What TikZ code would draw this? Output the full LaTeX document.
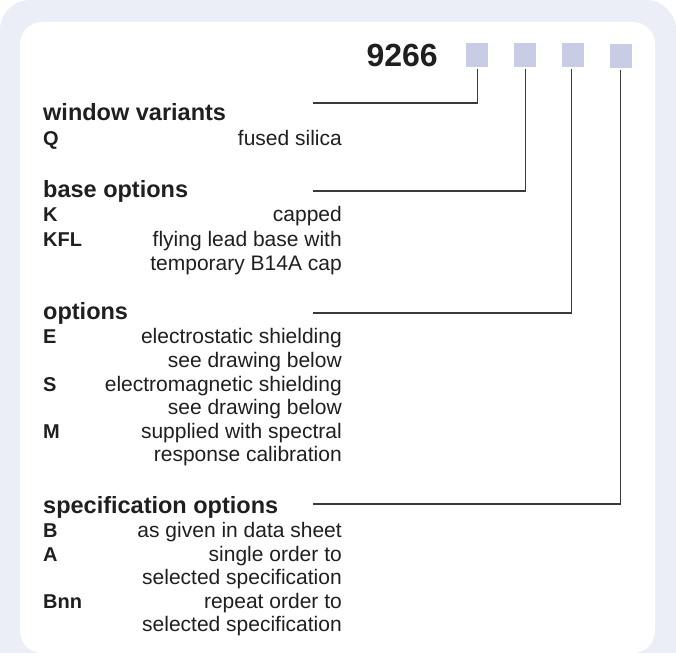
\documentclass[tikz,border=0pt]{standalone}
\usepackage{fontspec}
\setmainfont{Liberation Sans}
\definecolor{framebg}{HTML}{EBEEF6}
\definecolor{codebox}{HTML}{C8CCE4}
\definecolor{linegray}{HTML}{3A3A3A}
\begin{document}
\begin{tikzpicture}[x=1pt,y=-1pt,
  body/.style={inner sep=0pt,font=\fontsize{21}{24}\selectfont,text=black!88},
  lab/.style={body,anchor=base west,font=\fontsize{20}{24}\selectfont\bfseries},
  desc/.style={body,anchor=base east},
  head/.style={inner sep=0pt,anchor=base west,font=\fontsize{23.5}{26}\selectfont\bfseries,text=black!88},
  codesq/.style={fill=codebox,minimum width=22pt,minimum height=24pt,inner sep=0pt},
  conn/.style={draw=linegray,line width=1.2pt}]
\useasboundingbox (0,0) rectangle (676,652);
\begin{scope}
\clip (0,0) rectangle (676,652);
\fill[framebg,rounded corners=30pt] (0,0) rectangle (676,700);
\fill[white,rounded corners=22pt] (20,22) rectangle (655,653);
\end{scope}
% code
\node[inner sep=0pt,anchor=base east,font=\fontsize{32}{34}\selectfont\bfseries,text=black!88] (code) at (438,67) {9266};
\node[codesq,anchor=north west] (b1) at (466,43) {};
\node[codesq,anchor=north west] (b2) at (514,43) {};
\node[codesq,anchor=north west] (b3) at (562,43) {};
\node[codesq,anchor=north west] (b4) at (610,44) {};
% window variants
\node[head] (h1) at (43,121) {window variants};
\node[lab] (q) at (43,146) {Q};
\node[desc] (qd) at (342,146) {fused silica};
% base options
\node[head] (h2) at (43,197) {base options};
\node[lab] (k) at (43,222) {K};
\node[desc] (kd) at (342,222) {capped};
\node[lab] (kfl) at (43,246) {KFL};
\node[desc] (kfld1) at (342,246) {flying lead base with};
\node[desc] (kfld2) at (342,270) {temporary B14A cap};
% options
\node[head] (h3) at (43,319) {options};
\node[lab] (e) at (43,343) {E};
\node[desc] (ed1) at (342,343) {electrostatic shielding};
\node[desc] (ed2) at (342,367) {see drawing below};
\node[lab] (s) at (43,391) {S};
\node[desc] (sd1) at (342,391) {electromagnetic shielding};
\node[desc] (sd2) at (342,414) {see drawing below};
\node[lab] (m) at (43,438) {M};
\node[desc] (md1) at (342,438) {supplied with spectral};
\node[desc] (md2) at (342,461) {response calibration};
% specification options
\node[head] (h4) at (43,513) {specification options};
\node[lab] (bb) at (43,537) {B};
\node[desc] (bd) at (342,537) {as given in data sheet};
\node[lab] (aa) at (43,561) {A};
\node[desc] (ad1) at (342,561) {single order to};
\node[desc] (ad2) at (342,584) {selected specification};
\node[lab] (bnn) at (43,608) {Bnn};
\node[desc] (bnnd1) at (342,608) {repeat order to};
\node[desc] (bnnd2) at (342,631) {selected specification};
% connectors
\coordinate (l1) at (313,103);
\coordinate (l2) at (313,191);
\coordinate (l3) at (313,313);
\coordinate (l4) at (313,504);
\draw[conn] ([yshift=-2pt]b1.south) -- (b1.south |- l1) -- (l1);
\draw[conn] ([yshift=-2pt]b2.south) -- (b2.south |- l2) -- (l2);
\draw[conn] ([yshift=-2pt,xshift=-2pt]b3.south) -- ([xshift=-2pt]b3.south |- l3) -- (l3);
\draw[conn] ([yshift=-2pt,xshift=-1pt]b4.south) -- ([xshift=-1pt]b4.south |- l4) -- (l4);
\end{tikzpicture}
\end{document}
